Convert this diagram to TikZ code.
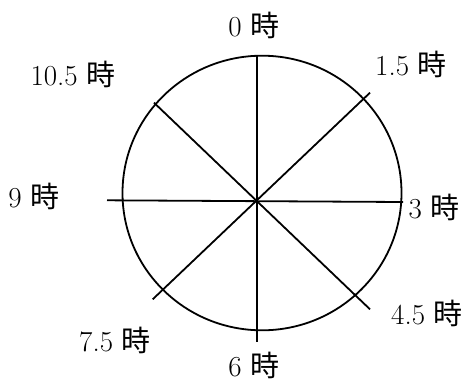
\documentclass[tikz,border=0pt]{standalone}
\usepackage{fontspec}
\newfontfamily\jp{Noto Sans CJK JP}
\begin{document}
\begin{tikzpicture}[x=1pt,y=-1pt,
  lbl/.style={inner sep=0pt,font=\fontsize{29}{34}\selectfont},
  stroke/.style={line width=1.8pt,black}]
\useasboundingbox (0,0) rectangle (465,383);
% circle
\draw[stroke] (262,193) ellipse [x radius=139.5, y radius=137.3];
% named points
\coordinate (o) at (256.7,200.7);
\coordinate (n) at (256.7,55.7);
\coordinate (s) at (256.7,341.7);
\coordinate (w) at (107,200.3);
\coordinate (e) at (403,202);
\coordinate (ne) at (370,92.7);
\coordinate (sw) at (152.7,299.3);
\coordinate (nw) at (154,102.7);
\coordinate (se) at (370,309.3);
\draw[stroke] (n) -- (s);
\draw[stroke] (w) -- (e);
\draw[stroke] (ne) -- (sw);
\draw[stroke] (nw) -- (se);
% labels
\node[lbl] (l0) at (254,25) {0\hspace{0.3em}{\jp 時}};
\node[lbl] (l15) at (411,64) {1.5\hspace{0.3em}{\jp 時}};
\node[lbl] (l3) at (434,207) {3\hspace{0.3em}{\jp 時}};
\node[lbl] (l45) at (427,313) {4.5\hspace{0.3em}{\jp 時}};
\node[lbl] (l6) at (254,365) {6\hspace{0.3em}{\jp 時}};
\node[lbl] (l75) at (115,340) {7.5\hspace{0.3em}{\jp 時}};
\node[lbl] (l9) at (34,196) {9\hspace{0.3em}{\jp 時}};
\node[lbl] (l105) at (73,74) {10.5\hspace{0.3em}{\jp 時}};
\end{tikzpicture}
\end{document}
